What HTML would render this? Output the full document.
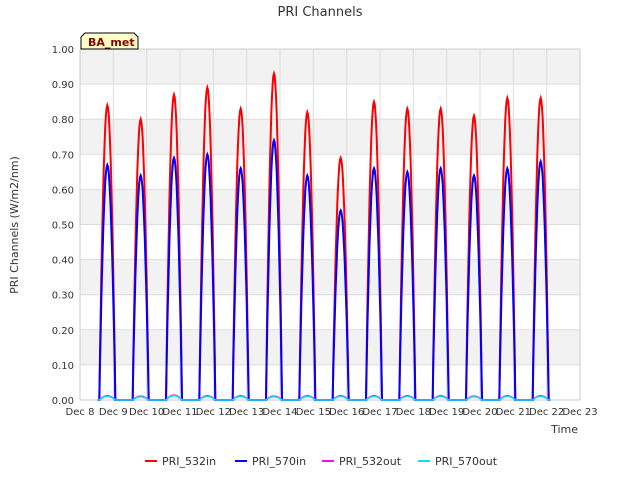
<!DOCTYPE html>
<html><head><meta charset="utf-8"><style>
body{margin:0;background:#fff;font-family:"DejaVu Sans","Liberation Sans",sans-serif;}
svg text{font-family:"DejaVu Sans","Liberation Sans",sans-serif;}
</style></head><body>
<svg width="640" height="480" xmlns="http://www.w3.org/2000/svg">
<text x="320" y="16" text-anchor="middle" font-size="13" fill="#333">PRI Channels</text>
<g id="bands"></g><g id="grid"></g><g id="series"></g><g id="ticks"></g>
<text x="18" y="225" transform="rotate(-90 18 225)" text-anchor="middle" font-size="11" fill="#333">PRI Channels (W/m2/nm)</text>
<text x="578" y="433" text-anchor="end" font-size="11" fill="#333">Time</text>
<g>
<path d="M81,49 L81,37 L85,33 L134,33 L138,37 L138,49 Z" fill="#ffffc8" stroke="#000" stroke-width="1"/>
<text x="88" y="46" font-size="11" font-weight="bold" fill="#8b0000">BA_met</text></g>
<g id="legend"></g>
</svg>
<script>
const days=[9,10,11,12,13,14,15,16,17,18,19,20,21,22];
const red=[0.84,0.80,0.87,0.89,0.83,0.93,0.82,0.69,0.85,0.83,0.83,0.81,0.86,0.86];
const blue=[0.67,0.64,0.69,0.70,0.66,0.74,0.64,0.54,0.66,0.65,0.66,0.64,0.66,0.68];
const out532=[0.012,0.011,0.014,0.012,0.012,0.011,0.012,0.012,0.012,0.012,0.012,0.011,0.012,0.012];
const out570=[0.010,0.009,0.012,0.010,0.010,0.009,0.010,0.010,0.010,0.010,0.010,0.009,0.010,0.010];
const yTicks=[0,0.1,0.2,0.3,0.4,0.5,0.6,0.7,0.8,0.9,1.0];
const xTicks=[8,9,10,11,12,13,14,15,16,17,18,19,20,21,22,23];
const X0=80,X1=580,Y0=400,Y1=49;
const xs=d=>X0+(d-8)/15*(X1-X0), ys=v=>Y0-v*(Y0-Y1);
const NS="http://www.w3.org/2000/svg";
function mk(t,a,p){const e=document.createElementNS(NS,t);for(const k in a)e.setAttribute(k,a[k]);p.appendChild(e);return e;}
const bands=document.getElementById('bands'),grid=document.getElementById('grid'),ser=document.getElementById('series'),tk=document.getElementById('ticks'),lg=document.getElementById('legend');
mk('rect',{x:X0,y:Y1,width:X1-X0,height:Y0-Y1,fill:'#fff'},bands);
for(let i=1;i<yTicks.length-1;i+=2){const r=mk('rect',{x:X0,y:ys(yTicks[i+1]),width:X1-X0,height:ys(yTicks[i])-ys(yTicks[i+1]),fill:'#f2f2f2'},bands);

}
yTicks.forEach(v=>{mk('line',{x1:X0,x2:X1,y1:ys(v),y2:ys(v),stroke:'#ddd'},grid);
const t=mk('text',{x:X0-6,y:ys(v)+4,'text-anchor':'end','font-size':10,fill:'#333'},tk);t.textContent=v.toFixed(2);

});
xTicks.forEach(d=>{mk('line',{x1:xs(d),x2:xs(d),y1:Y1,y2:Y0,stroke:'#ddd'},grid);
const t=mk('text',{x:xs(d),y:Y0+15,'text-anchor':'middle','font-size':10,fill:'#333'},tk);t.textContent='Dec '+d;

});
function path(vals,color,w,name){let d='';
days.forEach((day,i)=>{const c=day-0.18,h=0.24;
d+=(i?'L':'M')+xs(c-h-0.05)+','+ys(0);
for(let k=0;k<=24;k++){const t=c-h+2*h*k/24;const s=Math.sin(Math.PI*k/24);d+='L'+xs(t).toFixed(1)+','+ys(vals[i]*Math.pow(s,0.9)).toFixed(1);}
d+='L'+xs(c+h+0.05)+','+ys(0);});
const p=mk('path',{d:d,fill:'none',stroke:color,'stroke-width':w},ser);

}
path(red,'#ff0000',2,'series-pri-532in');
path(blue,'#0000ff',2,'series-pri-570in');
path(out532,'#ff00ff',1.5,'series-pri-532out');
path(out570,'#00e5ff',1.5,'series-pri-570out');
mk('rect',{x:X0,y:Y1,width:X1-X0,height:Y0-Y1,fill:'none',stroke:'#ccc'},grid);
const items=[['PRI_532in','#ff0000',145],['PRI_570in','#0000ff',235],['PRI_532out','#ff00ff',322],['PRI_570out','#00e5ff',418]];
items.forEach(it=>{const g=mk('g',{},lg);


mk('line',{x1:it[2],x2:it[2]+12,y1:461,y2:461,stroke:it[1],'stroke-width':2},g);
const t=mk('text',{x:it[2]+17,y:465,'font-size':11,fill:'#333'},g);t.textContent=it[0];});
</script>
</body></html>
